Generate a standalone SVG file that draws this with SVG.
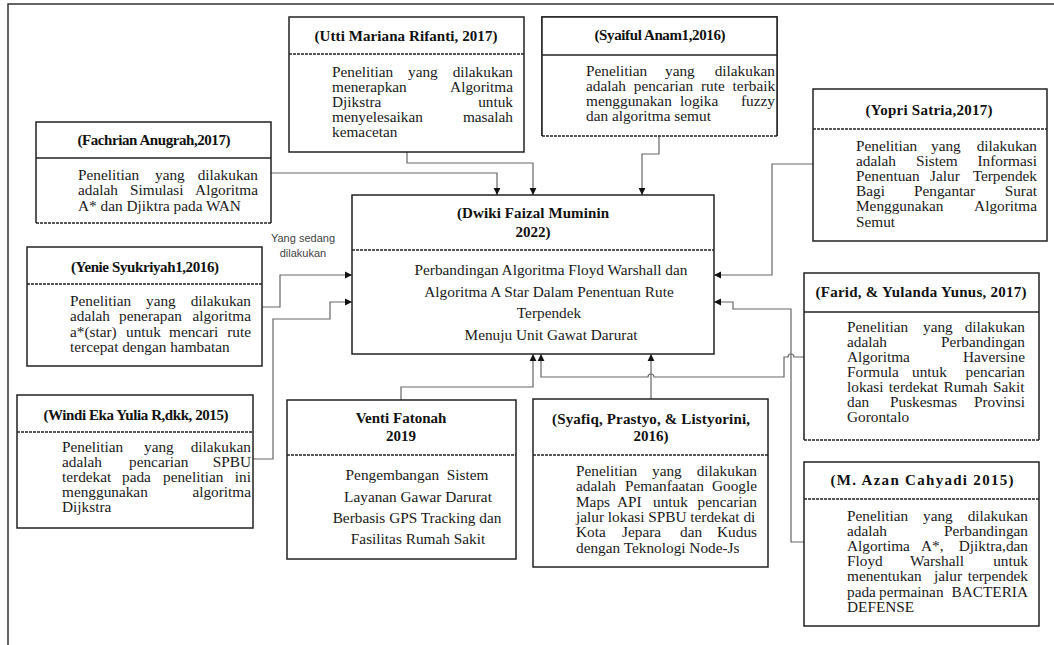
<svg xmlns="http://www.w3.org/2000/svg" width="1054" height="645" viewBox="0 0 1054 645">
  <defs>
    <marker id="ah" markerWidth="8" markerHeight="8" refX="7" refY="4" orient="auto" markerUnits="userSpaceOnUse">
      <path d="M0,0.6 L7,4 L0,7.4 Z" fill="#111"/>
    </marker>
  </defs>
  <style>
    .box{fill:#fff;stroke:#222;stroke-width:1.5}
    .edge{fill:none;stroke:#222;stroke-width:1.5}
    .sol{stroke:#222;stroke-width:1.3}
    .dash{stroke:#222;stroke-width:1.4;stroke-dasharray:3 1}
    .t{font-family:"Liberation Serif","Times New Roman",serif;font-size:15px;font-weight:bold;fill:#111;text-anchor:middle}
    .b{font-family:"Liberation Serif","Times New Roman",serif;font-size:15.3px;fill:#1a1a1a}
    .r{text-anchor:end}
    .c{text-anchor:middle}
    .wire{fill:none;stroke:#666;stroke-width:1.2;marker-end:url(#ah)}
    .note{font-family:"Liberation Sans",Arial,sans-serif;font-size:11px;fill:#444;text-anchor:middle}
  </style>

  <rect width="1054" height="645" fill="#fff"/>
  <!-- page frame -->
  <path d="M8,645 V4 H1054" fill="none" stroke="#333" stroke-width="1.5"/>

  <!-- connectors -->
  <g id="connectors">
    <path class="wire" d="M271,173 H497 V195"/>
    <path class="wire" d="M407,152 V163 H533 V195"/>
    <path class="wire" d="M659,136 V154 H642 V195"/>
    <path class="wire" d="M813,164 H772 V275 H714"/>
    <path class="wire" d="M262,307 H280 V275 H352"/>
    <path class="wire" d="M253,459 H273 V319 H330 V302 H352"/>
    <path class="wire" d="M401,400 V387 H533 V354"/>
    <path class="wire" d="M651,399 V354"/>
    <path class="wire" d="M804,357 H794 A3,3 0 0 0 788,357 H784 V377 H654 A3,3 0 0 0 648,377 H541 V354"/>
    <path class="wire" d="M804,542 H791 V309 H733 V302 H714"/>
    <text class="note" x="303" y="242">Yang sedang</text>
    <text class="note" x="303" y="257">dilakukan</text>
  </g>

  <!-- Utti Mariana Rifanti -->
  <g id="utti">
    <rect class="box" x="289" y="17" width="235" height="135"/>
    <line class="dash" x1="289" y1="54" x2="524" y2="54"/>
    <text class="t" x="406" y="41" textLength="183">(Utti Mariana Rifanti, 2017)</text>
    <text class="b" x="332" y="77">Penelitian<tspan x="408">yang</tspan></text>
    <text class="b r" x="513" y="77">dilakukan</text>
    <text class="b" x="332" y="92">menerapkan</text>
    <text class="b r" x="513" y="92">Algoritma</text>
    <text class="b" x="332" y="107">Djikstra</text>
    <text class="b r" x="513" y="107">untuk</text>
    <text class="b" x="332" y="122">menyelesaikan</text>
    <text class="b r" x="513" y="122">masalah</text>
    <text class="b" x="332" y="137">kemacetan</text>
  </g>

  <!-- Syaiful Anam -->
  <g id="syaiful">
    <path class="edge" d="M542,136 V17 H777 V136"/>
    <rect x="542" y="17" width="235" height="119" fill="#fff"/>
    <path class="edge" d="M542,136 V17 H777 V136"/>
    <line class="dash" x1="542" y1="136" x2="777" y2="136"/>
    <line class="sol" x1="542" y1="55" x2="777" y2="55"/>
    <text class="t" x="660" y="40" textLength="131">(Syaiful Anam1,2016)</text>
    <text class="b" x="586" y="76">Penelitian<tspan x="665">yang</tspan></text>
    <text class="b r" x="775" y="76">dilakukan</text>
    <text class="b" x="586" y="91" word-spacing="4">adalah pencarian rute terbaik</text>
    <text class="b" x="586" y="106">menggunakan<tspan x="680">logika</tspan></text>
    <text class="b r" x="775" y="106">fuzzy</text>
    <text class="b" x="586" y="121">dan algoritma semut</text>
  </g>

  <!-- Yopri Satria -->
  <g id="yopri">
    <rect class="box" x="813" y="89" width="234" height="152"/>
    <line class="dash" x1="813" y1="129" x2="1047" y2="129"/>
    <text class="t" x="929" y="115" textLength="127">(Yopri Satria,2017)</text>
    <text class="b" x="856" y="151">Penelitian<tspan x="931">yang</tspan></text>
    <text class="b r" x="1037" y="151">dilakukan</text>
    <text class="b" x="856" y="166">adalah<tspan x="916">Sistem</tspan></text>
    <text class="b r" x="1037" y="166">Informasi</text>
    <text class="b" x="856" y="181">Penentuan<tspan x="930">Jalur</tspan></text>
    <text class="b r" x="1037" y="181">Terpendek</text>
    <text class="b" x="856" y="196">Bagi<tspan x="914">Pengantar</tspan></text>
    <text class="b r" x="1037" y="196">Surat</text>
    <text class="b" x="856" y="211">Menggunakan</text>
    <text class="b r" x="1037" y="211">Algoritma</text>
    <text class="b" x="856" y="227">Semut</text>
  </g>

  <!-- Fachrian Anugrah -->
  <g id="fachrian">
    <rect x="36" y="122" width="235" height="101" fill="#fff"/>
    <path class="edge" d="M36,223 V122 H271 V223"/>
    <line class="dash" x1="36" y1="223" x2="271" y2="223"/>
    <line class="sol" x1="36" y1="158" x2="271" y2="158"/>
    <text class="t" x="154" y="145" textLength="153">(Fachrian Anugrah,2017)</text>
    <text class="b" x="78" y="180">Penelitian<tspan x="155">yang</tspan></text>
    <text class="b r" x="258" y="180">dilakukan</text>
    <text class="b" x="78" y="195">adalah<tspan x="130">Simulasi</tspan></text>
    <text class="b r" x="258" y="195">Algoritma</text>
    <text class="b" x="78" y="211">A* dan Djiktra pada WAN</text>
  </g>

  <!-- Dwiki Faizal Muminin (current work) -->
  <g id="dwiki">
    <rect class="box" x="352" y="195" width="362" height="159"/>
    <line class="dash" x1="352" y1="250" x2="714" y2="250"/>
    <text class="t" x="533" y="218" textLength="152">(Dwiki Faizal Muminin</text>
    <text class="t" x="533" y="237">2022)</text>
    <text class="b c" x="551" y="275">Perbandingan Algoritma Floyd Warshall dan</text>
    <text class="b c" x="549" y="297">Algoritma A Star Dalam Penentuan Rute</text>
    <text class="b c" x="549" y="318">Terpendek</text>
    <text class="b c" x="551" y="340">Menuju Unit Gawat Darurat</text>
  </g>

  <!-- Yenie Syukriyah -->
  <g id="yenie">
    <rect class="box" x="27" y="247" width="235" height="119"/>
    <line class="dash" x1="27" y1="284" x2="262" y2="284"/>
    <text class="t" x="145" y="272" textLength="148">(Yenie Syukriyah1,2016)</text>
    <text class="b" x="70" y="306">Penelitian<tspan x="146">yang</tspan></text>
    <text class="b r" x="251" y="306">dilakukan</text>
    <text class="b" x="70" y="321">adalah<tspan x="119">penerapan</tspan></text>
    <text class="b r" x="251" y="321">algoritma</text>
    <text class="b" x="70" y="337">a*(star)<tspan x="126">untuk</tspan><tspan x="169">mencari</tspan></text>
    <text class="b r" x="251" y="337">rute</text>
    <text class="b" x="70" y="352">tercepat dengan hambatan</text>
  </g>

  <!-- Windi Eka Yulia R -->
  <g id="windi">
    <rect class="box" x="17" y="395" width="236" height="133"/>
    <line class="dash" x1="17" y1="432" x2="253" y2="432"/>
    <text class="t" x="136" y="420" textLength="185">(Windi Eka Yulia R,dkk, 2015)</text>
    <text class="b" x="62" y="452">Penelitian<tspan x="144">yang</tspan></text>
    <text class="b r" x="251" y="452">dilakukan</text>
    <text class="b" x="62" y="467">adalah<tspan x="129">pencarian</tspan></text>
    <text class="b r" x="251" y="467">SPBU</text>
    <text class="b" x="62" y="482">terdekat<tspan x="122">pada</tspan><tspan x="163">penelitian</tspan></text>
    <text class="b r" x="251" y="482">ini</text>
    <text class="b" x="62" y="497">menggunakan</text>
    <text class="b r" x="251" y="497">algoritma</text>
    <text class="b" x="62" y="512">Dijkstra</text>
  </g>

  <!-- Venti Fatonah -->
  <g id="venti">
    <rect class="box" x="287" y="400" width="229" height="159"/>
    <line class="dash" x1="287" y1="455" x2="516" y2="455"/>
    <text class="t" x="401" y="423">Venti Fatonah</text>
    <text class="t" x="401" y="441">2019</text>
    <text class="b c" x="417" y="480" xml:space="preserve">Pengembangan  Sistem</text>
    <text class="b c" x="418" y="502">Layanan Gawar Darurat</text>
    <text class="b c" x="417" y="523">Berbasis GPS Tracking dan</text>
    <text class="b c" x="418" y="544">Fasilitas Rumah Sakit</text>
  </g>

  <!-- Syafiq, Prastyo, Listyorini -->
  <g id="syafiq">
    <rect class="box" x="533" y="399" width="235" height="168"/>
    <line class="dash" x1="533" y1="455" x2="768" y2="455"/>
    <text class="t" x="651" y="424" textLength="198">(Syafiq, Prastyo, &amp; Listyorini,</text>
    <text class="t" x="651" y="441">2016)</text>
    <text class="b" x="576" y="476">Penelitian<tspan x="652">yang</tspan></text>
    <text class="b r" x="757" y="476">dilakukan</text>
    <text class="b" x="576" y="491">adalah<tspan x="625">Pemanfaatan</tspan></text>
    <text class="b r" x="757" y="491">Google</text>
    <text class="b" x="576" y="507">Maps<tspan x="617">API</tspan><tspan x="653">untuk</tspan></text>
    <text class="b r" x="757" y="507">pencarian</text>
    <text class="b" x="576" y="522">jalur lokasi SPBU terdekat di</text>
    <text class="b" x="576" y="537">Kota<tspan x="622">Jepara</tspan><tspan x="680">dan</tspan></text>
    <text class="b r" x="757" y="537">Kudus</text>
    <text class="b" x="576" y="553">dengan Teknologi Node-Js</text>
  </g>

  <!-- Farid & Yulanda Yunus -->
  <g id="farid">
    <rect x="804" y="273" width="235" height="167" fill="#fff"/>
    <path class="edge" d="M804,440 V273 H1039 V440"/>
    <line class="dash" x1="804" y1="440" x2="1039" y2="440"/>
    <line class="sol" x1="804" y1="312" x2="1039" y2="312"/>
    <text class="t" x="921" y="297" textLength="211">(Farid, &amp; Yulanda Yunus, 2017)</text>
    <text class="b" x="847" y="332">Penelitian<tspan x="923">yang</tspan></text>
    <text class="b r" x="1025" y="332">dilakukan</text>
    <text class="b" x="847" y="347">adalah</text>
    <text class="b r" x="1025" y="347">Perbandingan</text>
    <text class="b" x="847" y="362">Algoritma</text>
    <text class="b r" x="1025" y="362">Haversine</text>
    <text class="b" x="847" y="377">Formula<tspan x="912">untuk</tspan></text>
    <text class="b r" x="1025" y="377">pencarian</text>
    <text class="b" x="847" y="392" word-spacing="1.5">lokasi terdekat Rumah Sakit</text>
    <text class="b" x="847" y="407">dan<tspan x="890">Puskesmas</tspan></text>
    <text class="b r" x="1025" y="407">Provinsi</text>
    <text class="b" x="847" y="422">Gorontalo</text>
  </g>

  <!-- M. Azan Cahyadi -->
  <g id="azan">
    <rect class="box" x="804" y="462" width="235" height="164"/>
    <line class="dash" x1="804" y1="499" x2="1039" y2="499"/>
    <text class="t" x="922" y="485" textLength="183">(M. Azan Cahyadi 2015)</text>
    <text class="b" x="847" y="521">Penelitian<tspan x="923">yang</tspan></text>
    <text class="b r" x="1028" y="521">dilakukan</text>
    <text class="b" x="847" y="536">adalah</text>
    <text class="b r" x="1028" y="536">Perbandingan</text>
    <text class="b" x="847" y="551">Algortima<tspan x="921">A*,</tspan></text>
    <text class="b r" x="1028" y="551">Djiktra,dan</text>
    <text class="b" x="847" y="566">Floyd<tspan x="910">Warshall</tspan></text>
    <text class="b r" x="1028" y="566">untuk</text>
    <text class="b" x="847" y="581">menentukan<tspan x="934">jalur</tspan></text>
    <text class="b r" x="1028" y="581">terpendek</text>
    <text class="b" x="847" y="597">pada<tspan x="879">permainan</tspan></text>
    <text class="b r" x="1028" y="597">BACTERIA</text>
    <text class="b" x="847" y="612">DEFENSE</text>
  </g>
</svg>
